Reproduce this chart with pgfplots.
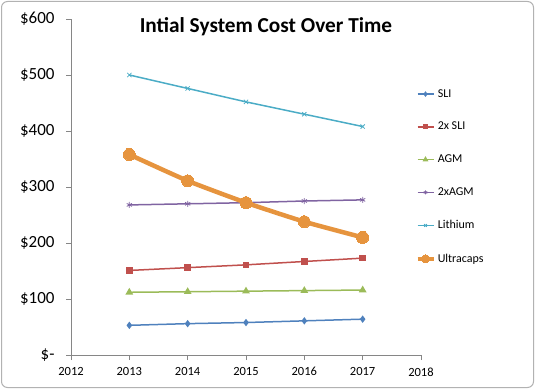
\documentclass[border=0pt]{standalone}
\usepackage{pgfplots}
\pgfplotsset{compat=1.18}
\usepackage{fontspec}
\setmainfont{Carlito}
\usetikzlibrary{plotmarks}
\definecolor{cSLI}{RGB}{79,129,189}
\definecolor{cSLI2}{RGB}{192,80,77}
\definecolor{cAGM}{RGB}{155,187,89}
\definecolor{cAGM2}{RGB}{128,100,162}
\definecolor{cLi}{RGB}{75,172,198}
\definecolor{cUC}{RGB}{230,148,62}
\definecolor{axgray}{RGB}{134,134,134}
\begin{document}
\begin{tikzpicture}[x=1pt,y=1pt]
\useasboundingbox (0,0) rectangle (535,389);
\draw[rounded corners=6pt, color=black!30, line width=1pt] (1.5,1.5) rectangle (533.5,387.5);
\begin{axis}[
  at={(71pt,34pt)}, anchor=origin,
  scale only axis, width=350pt, height=336pt,
  xmin=2012, xmax=2018, ymin=0, ymax=600,
  axis x line*=bottom, axis y line*=left,
  axis line style={color=axgray, line width=0.8pt},
  xtick={2012,...,2018}, ytick={0,100,...,600},
  xticklabel style={/pgf/number format/1000 sep={}, font=\fontsize{12.5}{14}\selectfont},
  yticklabels={\$-, \$100, \$200, \$300, \$400, \$500, \$600},
  yticklabel style={font=\fontsize{17}{19}\selectfont, xshift=-8pt},
  xticklabel style={yshift=-4pt},
  tick style={color=axgray, line width=0.8pt},
  tick align=outside, major tick length=5pt,
  /pgf/number format/assume math mode=true,
  clip=false,
  legend style={draw=none, fill=none, at={(0.983,0.797)}, anchor=north west,
    font=\fontsize{12}{14}\selectfont, row sep=19.5pt, inner sep=0pt},
  legend cell align=left,
  legend image code/.code={\draw[#1, every mark/.append style={scale=0.65}] (0pt,0pt) -- (8pt,0pt) plot coordinates {(8pt,0pt)}; \draw[#1] (8pt,0pt) -- (16pt,0pt);},
]
\addplot[color=cSLI, line width=1.5pt, mark=diamond*, mark size=2.5pt] coordinates {(2013,53) (2014,56) (2015,58) (2016,61) (2017,64)};
\addlegendentry{SLI}
\addplot[color=cSLI2, line width=1.5pt, mark=square*, mark size=2.5pt] coordinates {(2013,151) (2014,156) (2015,161) (2016,167) (2017,173)};
\addlegendentry{2x SLI}
\addplot[color=cAGM, line width=1.5pt, mark=triangle*, mark size=3pt] coordinates {(2013,112) (2014,113) (2015,114) (2016,115) (2017,116)};
\addlegendentry{AGM}
\addplot[color=cAGM2, line width=1.5pt, mark=asterisk, mark size=3pt, mark options={line width=0.8pt}] coordinates {(2013,268) (2014,270) (2015,272) (2016,275) (2017,277)};
\addlegendentry{2xAGM}
\addplot[color=cLi, line width=1.5pt, mark=x, mark size=3pt, mark options={line width=0.8pt}] coordinates {(2013,500) (2014,476) (2015,452) (2016,430) (2017,408)};
\addlegendentry{Lithium}
\addplot[color=cUC, line width=4.5pt, smooth, tension=0.3, mark=*, mark size=6pt, mark options={line width=0pt}] coordinates {(2013,358) (2014,311) (2015,272) (2016,238) (2017,210)};
\addlegendentry{Ultracaps}
\node[font=\fontsize{21.3}{24}\selectfont\bfseries, anchor=center] at (rel axis cs:0.557,0.977) {Intial System Cost Over Time};
\end{axis}
\end{tikzpicture}
\end{document}
